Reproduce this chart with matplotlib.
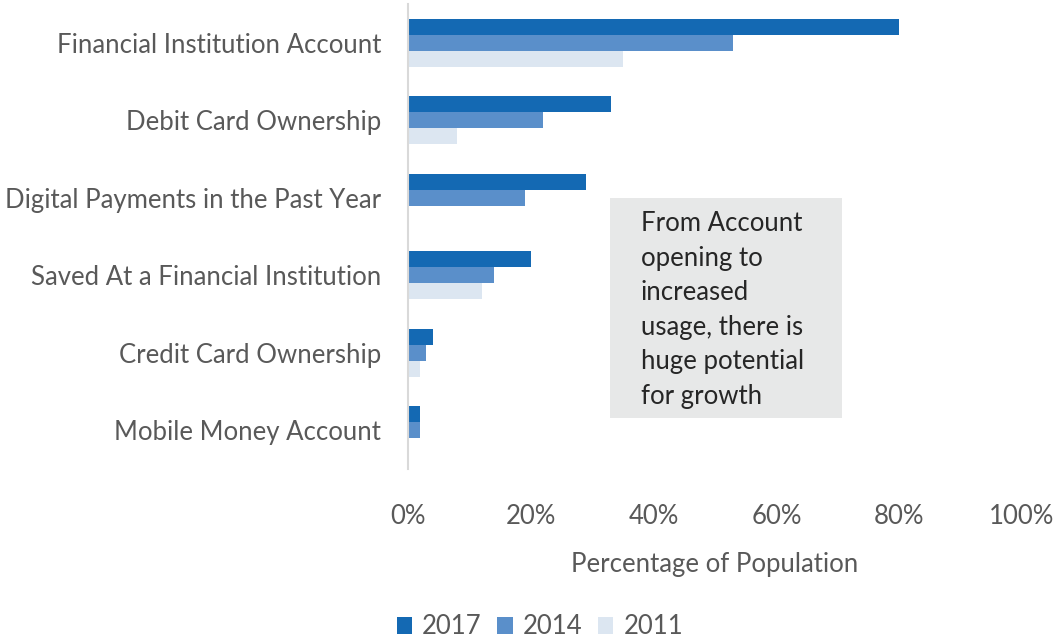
import matplotlib.pyplot as plt
from matplotlib.patches import Rectangle, Patch
import numpy as np

plt.rcParams['font.family'] = ['Lato', 'DejaVu Sans']

categories = ['Financial Institution Account', 'Debit Card Ownership',
              'Digital Payments in the Past Year', 'Saved At a Financial Institution',
              'Credit Card Ownership', 'Mobile Money Account']
years = ['2017', '2014', '2011']
v2017 = [80, 33, 29, 20, 4, 2]
v2014 = [53, 22, 19, 14, 3, 2]
v2011 = [35, 8, 0, 12, 2, 0]
colors = ['#1469B3', '#5A8FCA', '#DCE6F1']

note = 'From Account\nopening to\nincreased\nusage, there is\nhuge potential\nfor growth'

W, H = 1059, 638
fs = 18.5
fig = plt.figure(figsize=(W / 100, H / 100), dpi=100)
ax = fig.add_axes([408 / W, 1 - 469 / H, (1022 - 408) / W, 465 / H])

y = np.arange(len(categories))
h = 0.207
for i, (vals, c) in enumerate(zip([v2017, v2014, v2011], colors)):
    ax.barh(y + (i - 1) * h, vals, height=h, color=c, label=years[i])

ax.set_ylim(len(categories) - 0.5, -0.5)
ax.set_xlim(0, 100)
ax.set_yticks(y)
ax.set_yticklabels(categories)
ax.set_xticks(range(0, 101, 20))
ax.set_xticklabels([f'{t}%' for t in range(0, 101, 20)])
ax.tick_params(axis='y', length=0, pad=19.5, labelsize=fs, labelcolor='#595959')
ax.tick_params(axis='x', length=0, pad=25, labelsize=fs, labelcolor='#595959')
for s in ['top', 'right', 'bottom']:
    ax.spines[s].set_visible(False)
ax.spines['left'].set_color('#D9D9D9')
ax.spines['left'].set_linewidth(1.5)
ax.set_xlabel('Percentage of Population', fontsize=fs, color='#595959', labelpad=17)

# callout box
fig.patches.append(Rectangle((610 / W, 1 - 418 / H), 232 / W, 220 / H,
                             transform=fig.transFigure, facecolor='#E7E8E8',
                             edgecolor='none', zorder=0))
fig.text(641 / W, 1 - 211 / H, note, fontsize=fs, color='#262626',
         va='top', ha='left', linespacing=1.48)

handles = [Patch(facecolor=c, label=yr) for c, yr in zip(colors, years)]
fig.legend(handles=handles, loc='center', bbox_to_anchor=(540 / W, 1 - 627 / H),
           ncol=3, frameon=False, fontsize=fs, handlelength=0.6, handleheight=0.6,
           handletextpad=0.4, columnspacing=0.6, labelcolor='#595959')

fig.savefig('out.png', dpi=100)
